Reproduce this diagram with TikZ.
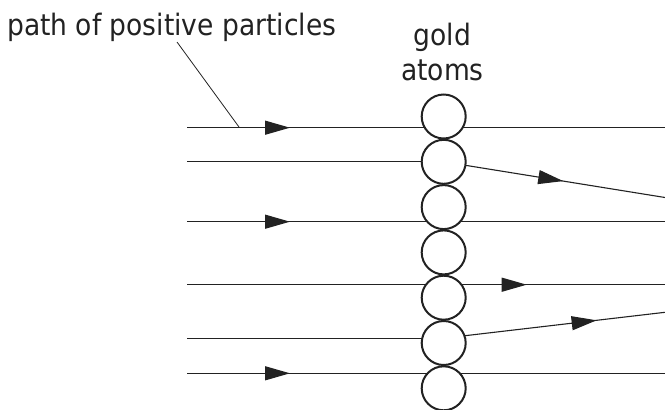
\documentclass[tikz,border=0pt]{standalone}
\usepackage{fontspec}
\setmainfont{DejaVu Sans Condensed}
\usetikzlibrary{arrows.meta,decorations.markings}
\definecolor{ink}{HTML}{222222}
\tikzset{
  ray/.style={draw=ink, line width=1.3pt},
  atom/.style={circle, draw=ink, fill=white, line width=2pt, minimum size=44pt, inner sep=0pt},
  arrowat/.style={postaction={decorate}, decoration={markings, mark=at position #1 with {\arrow[ink]{Triangle[length=25pt,width=14pt]}}}},
  lbl/.style={text=ink, inner sep=0pt, font=\fontsize{29.5}{34}\selectfont},
}
\begin{document}
\begin{tikzpicture}[x=1pt,y=-1pt]
\useasboundingbox (0,0) rectangle (665,410);
% label and callout
\node[lbl, anchor=base west] (lab) at (7,35) {path of positive particles};
\node[lbl, anchor=base] (gold) at (442.5,45) {gold};
\node[lbl, anchor=base] (atoms) at (442.5,80) {atoms};
% coordinates
\coordinate (a1) at (187.3,127.7); \coordinate (b1) at (665,127.7);
\coordinate (a2) at (187.3,161.8); \coordinate (m2) at (443.7,161.8); \coordinate (b2) at (665,197.5);
\coordinate (a3) at (187.3,221.7); \coordinate (b3) at (665,221.7);
\coordinate (a4) at (187.3,284.7); \coordinate (b4) at (665,284.7);
\coordinate (a5) at (187.3,338.2); \coordinate (m5) at (443.7,338.2); \coordinate (b5) at (665,312.3);
\coordinate (a6) at (187.3,373.3); \coordinate (b6) at (665,373.3);
\coordinate (ct) at (177,42); \coordinate (cb) at (239.5,127.7);
% rays
\draw[ray, arrowat=102.7pt] (a1) -- (b1);
\draw[ray] (a2) -- (m2);
\draw[ray, line width=1.1pt, arrowat=121.1pt] (m2) -- (b2);
\draw[ray, arrowat=102.7pt] (a3) -- (b3);
\draw[ray, arrowat=339.4pt] (a4) -- (b4);
\draw[ray] (a5) -- (m5);
\draw[ray, line width=1.1pt, arrowat=154pt] (m5) -- (b5);
\draw[ray, arrowat=102.7pt] (a6) -- (b6);
\draw[draw=ink, line width=0.8pt] (ct) -- (cb);
% atoms
\foreach \i [evaluate=\i as \yy using 116.5+45.3*(\i-1)] in {1,...,7}
  \node[atom] (c\i) at (443.7,\yy) {};
\end{tikzpicture}
\end{document}
